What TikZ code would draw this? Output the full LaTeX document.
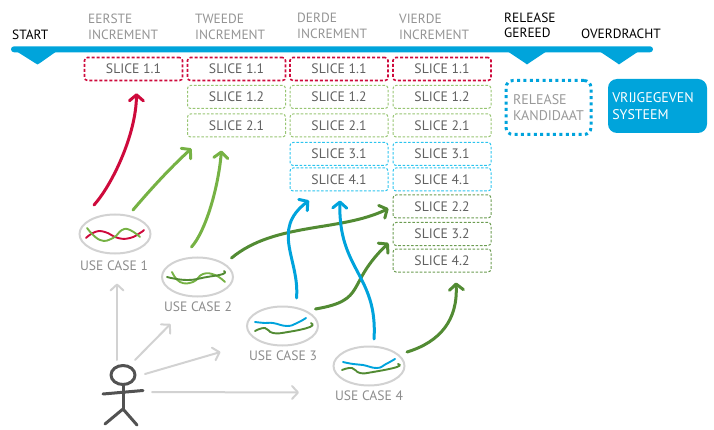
\documentclass[tikz,border=0pt]{standalone}
\usepackage{fontspec}
\setmainfont{PT Sans}
\usetikzlibrary{arrows.meta,calc,shapes.geometric}
\definecolor{cred}{HTML}{CE0A3C}
\definecolor{clight}{HTML}{76B244}
\definecolor{cdark}{HTML}{528B33}
\definecolor{cblue}{HTML}{00A3DC}
\definecolor{csky}{HTML}{2CC4EE}
\definecolor{cbar}{HTML}{00A4DB}
\definecolor{cgr}{HTML}{D2D2D2}
\tikzset{
  x=1pt,y=-1pt,
  sbox/.style={draw,rounded corners=3pt,minimum width=98pt,minimum height=23pt,inner sep=0pt,text=black!62,
    font=\fontsize{13.7}{15}\selectfont,line width=1pt,dash pattern=on 2.6pt off 1.7pt},
  sred/.style={sbox,draw=cred,line width=1.6pt,dash pattern=on 3pt off 2pt},
  slight/.style={sbox,draw=clight!75},
  sdark/.style={sbox,draw=cdark!85},
  ssky/.style={sbox,draw=csky},
  hdr/.style={anchor=west,align=left,inner sep=0pt,text=black!42,font=\fontsize{13.4}{15.5}\selectfont},
  mile/.style={hdr,text=black},
  uc/.style={ellipse,draw=cgr,line width=2pt,minimum width=71pt,minimum height=39pt,inner sep=0pt},
  uclbl/.style={inner sep=0pt,text=black!45,font=\fontsize{13.6}{15}\selectfont},
  arr/.style={line width=3pt,-{Straight Barb[length=6pt,width=14pt,round]},line cap=round},
  garr/.style={line width=2pt,draw=cgr,-{Straight Barb[length=6pt,width=13pt,round]},line cap=round},
  sq/.style={line width=1.9pt,line cap=round,smooth,tension=0.8},
  stick/.style={draw=black!68,line width=3pt,line cap=round,line join=round}
}
\begin{document}
\begin{tikzpicture}
\useasboundingbox (0,0) rectangle (714,430);
% timeline
\fill[cbar,rounded corners=3pt] (11,46.3) rectangle (653,52.3);
\fill[cbar,line join=round] (16,51) -- (57,51) -- (40,63) -- (37.5,64.5) -- (35,63) -- cycle;
\fill[cbar] (507,51) -- (547,51) -- (529,63) -- (527,64.5) -- (525,63) -- cycle;
\fill[cbar] (599,51) -- (639,51) -- (621,63) -- (619,64.5) -- (617,63) -- cycle;
% headers
\node[mile] (hstart) at (12,35) {START};
\node[hdr] (h1) at (88,27) {EERSTE\\INCREMENT};
\node[hdr] (h2) at (195,27) {TWEEDE\\INCREMENT};
\node[hdr] (h3) at (297,26) {DERDE\\INCREMENT};
\node[hdr] (h4) at (399,27) {VIERDE\\INCREMENT};
\node[mile] (hrel) at (504,25.5) {RELEASE\\GEREED};
\node[mile] (hover) at (581,34) {OVERDRACHT};
% slices
\node[sred] (a11) at (133.5,69) {SLICE 1.1};
\node[sred] (b11) at (236.5,69) {SLICE 1.1};
\node[slight] (b12) at (236.5,97) {SLICE 1.2};
\node[slight] (b21) at (236.5,125.5) {SLICE 2.1};
\node[sred] (c11) at (339,69) {SLICE 1.1};
\node[slight] (c12) at (339,97) {SLICE 1.2};
\node[slight] (c21) at (339,125.5) {SLICE 2.1};
\node[ssky] (c31) at (339,154) {SLICE 3.1};
\node[ssky] (c41) at (339,179.5) {SLICE 4.1};
\node[sred] (d11) at (442,69) {SLICE 1.1};
\node[slight] (d12) at (442,97) {SLICE 1.2};
\node[slight] (d21) at (442,125.5) {SLICE 2.1};
\node[ssky] (d31) at (442,154) {SLICE 3.1};
\node[ssky] (d41) at (442,179.5) {SLICE 4.1};
\node[sdark] (d22) at (442,206.5) {SLICE 2.2};
\node[sdark] (d32) at (442,234) {SLICE 3.2};
\node[sdark] (d42) at (442,260.5) {SLICE 4.2};
% release boxes
\node[draw=cblue,line width=3pt,dash pattern=on 3pt off 3.4pt,rounded corners=7pt,minimum width=85pt,minimum height=54pt,inner sep=0pt,
  align=left,text=black!40,font=\fontsize{14}{16.5}\selectfont] (rel) at (548.5,107.5) {RELEASE\\KANDIDAAT};
\node[fill=cbar,rounded corners=9pt,minimum width=99pt,minimum height=54pt,inner sep=0pt,text=white,
  align=left,font=\fontsize{14}{16.5}\selectfont] (sys) at (657.5,106) {\hspace*{-9pt}VRIJGEGEVEN\\\hspace*{-9pt}SYSTEEM};
% use cases
\node[uc] (u1) at (115,234) {};
\node[uc] (u2) at (197.5,277) {};
\node[uc] (u3) at (282.5,326) {};
\node[uc] (u4) at (369,366) {};
\node[uclbl] (l1) at (114,266) {USE CASE 1};
\node[uclbl] (l2) at (198,307) {USE CASE 2};
\node[uclbl] (l3) at (283,356) {USE CASE 3};
\node[uclbl] (l4) at (369,396) {USE CASE 4};
% squiggles
\draw[sq,cred] plot coordinates {(86,238) (95,232) (105,232) (118,238) (130,238) (140,233) (144,230)};
\draw[sq,clight] plot coordinates {(87,228) (100,240) (113,238) (122,230) (130,230) (140,237)};
\draw[sq,clight] plot coordinates {(172,272) (180,282) (193,282) (203,274) (215,275) (225,282)};
\draw[sq,cdark] plot coordinates {(167,277) (187,280) (207,277) (223,274) (224,271)};
\draw[sq,cblue] plot coordinates {(255,322) (265,323) (273,323) (287,326) (297,323) (306,318)};
\draw[sq,cdark] plot coordinates {(255,331) (265,328) (273,333) (288,332) (310,327) (311,323)};
\draw[sq,cblue] plot coordinates {(343,362) (353,364) (363,365) (377,368) (386,364) (395,359)};
\draw[sq,cdark] plot coordinates {(342,370) (352,368) (360,373) (373,372) (397,367) (398,364)};
% actor
\coordinate (neck) at (123,385);
\coordinate (hip) at (123,409);
\draw[stick] (123,375) ellipse (12 and 9.5);
\node[inner sep=0pt,minimum size=24pt] (actor) at (123,392) {};
\draw[stick] (neck) -- (hip);
\draw[stick] (103,394) -- (143,390.5);
\draw[stick] (105,424) -- (hip) -- (137,425);
% actor arrows
\draw[garr] ($(actor)+(-6,-32)$) -- ($(u1.south)+(2,29)$);
\draw[garr] ($(actor)+(12,-32)$) -- ($(u2)+(-27,47)$);
\draw[garr] ($(actor)+(22,-18)$) -- ($(u3)+(-62,26)$);
\draw[garr] ($(actor)+(29,0)$) -- ($(u4)+(-70,26.5)$);
% connectors
\draw[arr,cred] ($(u1)+(-21,-29)$) .. controls (112,185) and (136,135) .. ($(a11.south)+(3,12)$);
\draw[arr,clight] ($(u1)+(18,-24)$) .. controls (150,190) and (170,168) .. ($(b21.south)+(-45,11)$);
\draw[arr,clight] ($(u2)+(-6,-30)$) .. controls (205,232) and (218,190) .. ($(b21.south)+(-15,13)$);
\draw[arr,cdark] ($(u2)+(34,-19)$) .. controls (275,222) and (340,232) .. ($(d22.west)+(-4,2)$);
\draw[arr,cdark] ($(u3)+(33,-17)$) .. controls (368,300) and (345,285) .. ($(d32.west)+(-4,9)$);
\draw[arr,cblue] ($(u3)+(14,-28)$) .. controls (300,260) and (270,230) .. ($(c41.south)+(-30,9)$);
\draw[arr,cblue] ($(u4)+(5,-27)$) .. controls (378,275) and (338,270) .. ($(c41.south)+(1,9)$);
\draw[arr,cdark] ($(u4)+(38,-14)$) .. controls (440,342) and (458,320) .. ($(d42.south)+(14,10)$);
\end{tikzpicture}
\end{document}
